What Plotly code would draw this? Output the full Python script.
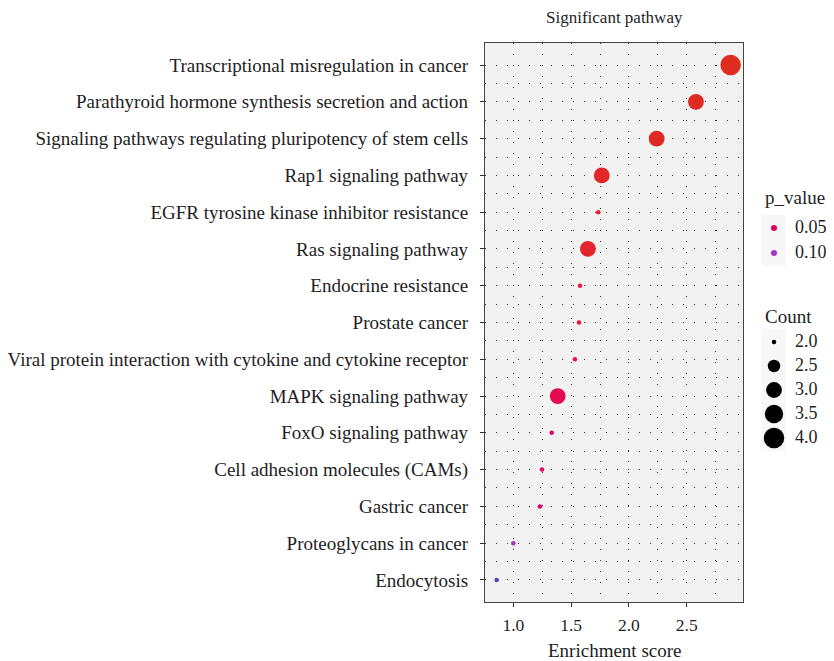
import numpy as np
import plotly.graph_objects as go

# the page has an 8px body margin; figure coordinates are page coords - 8
W, H = 826, 653
OFF = 8

pathways = [
    "Transcriptional misregulation in cancer",
    "Parathyroid hormone synthesis secretion and action",
    "Signaling pathways regulating pluripotency of stem cells",
    "Rap1 signaling pathway",
    "EGFR tyrosine kinase inhibitor resistance",
    "Ras signaling pathway",
    "Endocrine resistance",
    "Prostate cancer",
    "Viral protein interaction with cytokine and cytokine receptor",
    "MAPK signaling pathway",
    "FoxO signaling pathway",
    "Cell adhesion molecules (CAMs)",
    "Gastric cancer",
    "Proteoglycans in cancer",
    "Endocytosis",
]
enrichment = [2.88, 2.58, 2.24, 1.765, 1.735, 1.645, 1.577, 1.568, 1.533,
              1.384, 1.332, 1.248, 1.23, 1.0, 0.856]
counts = [4, 3, 3, 3, 2, 3, 2, 2, 2, 3, 2, 2, 2, 2, 2]
p_values = [0.005, 0.008, 0.010, 0.012, 0.015, 0.015, 0.03, 0.03, 0.032,
            0.042, 0.05, 0.055, 0.055, 0.10, 0.13]

legend_p = [0.05, 0.10]
legend_counts = [2.0, 2.5, 3.0, 3.5, 4.0]
x_ticks = [1.0, 1.5, 2.0, 2.5]

# style mappings
PMIN, PMAX = 0.005, 0.13
def frac(p):
    return (p - PMIN) / (PMAX - PMIN)
colorscale = [
    [0.0, "#DE2D1F"],
    [frac(0.03), "#E8173F"],
    [frac(0.05), "#E3005C"],
    [frac(0.10), "#A334C4"],
    [1.0, "#4B4BB8"],
]
def size_of(c):
    c = np.asarray(c, dtype=float)
    return 4.5 + 16 * np.sqrt((c - 2.0) / 2.0)

FONT = "Liberation Serif"
TXT = "#1E1E1E"
n = len(pathways)
ypos = list(range(n, 0, -1))

# panel in page pixels -> figure pixels
L, R, T, B = 485 - OFF, 743 - OFF, 43 - OFF, 602 - OFF

fig = go.Figure()
fig.add_trace(go.Scatter(
    x=enrichment, y=ypos, mode="markers",
    marker=dict(color=p_values, colorscale=colorscale, cmin=PMIN, cmax=PMAX,
                size=size_of(counts), line=dict(width=0), opacity=1),
    showlegend=False, hoverinfo="text", text=pathways,
))

# legend drawn on a pixel-coordinate overlay axis
LEG_SHIFT = 4
KX = 778 - OFF - LEG_SHIFT
LX = 799 - OFF - LEG_SHIFT
TX = 767 - OFF - LEG_SHIFT
p_y = [v - OFF for v in (228, 253)]
c_y = [v - OFF for v in (342, 366, 390, 414, 438)]
fig.add_trace(go.Scatter(
    x=[KX] * len(legend_p), y=p_y, mode="markers", xaxis="x2", yaxis="y2",
    marker=dict(color=legend_p, colorscale=colorscale, cmin=PMIN, cmax=PMAX,
                size=6, line=dict(width=0), opacity=1),
    showlegend=False, hoverinfo="skip"))
fig.add_trace(go.Scatter(
    x=[LX] * len(legend_p), y=p_y, mode="text", xaxis="x2", yaxis="y2",
    text=[f"{v:.2f}" for v in legend_p], textposition="middle right",
    textfont=dict(family=FONT, size=18, color=TXT),
    showlegend=False, hoverinfo="skip", cliponaxis=False))
fig.add_trace(go.Scatter(
    x=[KX] * len(legend_counts), y=c_y, mode="markers", xaxis="x2", yaxis="y2",
    marker=dict(color="#000000", size=size_of(legend_counts), line=dict(width=0),
                opacity=1),
    showlegend=False, hoverinfo="skip"))
fig.add_trace(go.Scatter(
    x=[LX] * len(legend_counts), y=c_y, mode="text", xaxis="x2", yaxis="y2",
    text=[f"{v:.1f}" for v in legend_counts], textposition="middle right",
    textfont=dict(family=FONT, size=18, color=TXT),
    showlegend=False, hoverinfo="skip", cliponaxis=False))

shapes = [
    dict(type="rect", xref="x domain", yref="y domain", x0=0, x1=1, y0=0, y1=1,
         fillcolor="#F2F2F2", line=dict(width=0), layer="below"),
    dict(type="rect", xref="x2", yref="y2", x0=KX - 12, x1=KX + 12,
         y0=215 - OFF, y1=266 - OFF,
         fillcolor="#F7F7F7", line=dict(width=0), layer="below"),
    dict(type="rect", xref="x2", yref="y2", x0=KX - 12, x1=KX + 12,
         y0=329 - OFF, y1=451 - OFF,
         fillcolor="#F7F7F7", line=dict(width=0), layer="below"),
]
annotations = [
    dict(text="p_value", xref="x2", yref="y2", x=TX, y=197 - OFF, showarrow=False,
         xanchor="left", yanchor="middle", font=dict(family=FONT, size=19, color=TXT)),
    dict(text="Count", xref="x2", yref="y2", x=TX, y=316 - OFF, showarrow=False,
         xanchor="left", yanchor="middle", font=dict(family=FONT, size=19, color=TXT)),
    dict(text="Significant pathway", xref="x2", yref="y2",
         x=(L + R) / 2, y=17 - OFF, showarrow=False,
         xanchor="center", yanchor="middle", font=dict(family=FONT, size=17, color=TXT)),
    dict(text="Enrichment score", xref="x2", yref="y2",
         x=(L + R) / 2, y=650 - OFF, showarrow=False,
         xanchor="center", yanchor="middle", font=dict(family=FONT, size=19, color=TXT)),
]

grid_dash = "1px,10px"
GRID = "#333333"
fig.update_layout(
    width=W, height=H,
    margin=dict(l=0, r=0, t=0, b=0, pad=0),
    paper_bgcolor="white",
    plot_bgcolor="rgba(0,0,0,0)",
    font=dict(family=FONT, size=15, color=TXT),
    shapes=shapes,
    annotations=annotations,
    xaxis=dict(
        domain=[L / W, R / W], range=[0.755, 2.987],
        tickvals=x_ticks, ticktext=[f"{v:.1f}" for v in x_ticks],
        ticks="outside", ticklen=4, tickcolor="#333", tickwidth=1.2,
        ticklabelstandoff=3,
        showline=True, linecolor="#444", linewidth=1.2, mirror=True,
        showgrid=True, gridcolor=GRID, gridwidth=1, griddash=grid_dash,
        minor=dict(tickvals=[1.25, 1.75, 2.25, 2.75], showgrid=True,
                   gridcolor=GRID, gridwidth=1, griddash=grid_dash, ticks=""),
        zeroline=False,
        tickfont=dict(family=FONT, size=17.5, color=TXT),
        automargin=False,
    ),
    yaxis=dict(
        domain=[1 - B / H, 1 - T / H], range=[0.4, n + 0.6],
        tickvals=ypos, ticktext=pathways,
        ticks="outside", ticklen=4, tickcolor="#333", tickwidth=1.2,
        ticklabelstandoff=8,
        showline=True, linecolor="#444", linewidth=1.2, mirror=True,
        showgrid=True, gridcolor=GRID, gridwidth=1, griddash=grid_dash,
        minor=dict(tickvals=[i + 0.5 for i in range(1, n)], showgrid=True,
                   gridcolor=GRID, gridwidth=1, griddash=grid_dash, ticks=""),
        zeroline=False,
        tickfont=dict(family=FONT, size=19, color=TXT),
        automargin=False,
    ),
    xaxis2=dict(domain=[0, 1], range=[0, W], visible=False, fixedrange=True,
                anchor="y2"),
    yaxis2=dict(domain=[0, 1], range=[H, 0], visible=False, fixedrange=True,
                anchor="x2"),
)

fig.write_html("out.html")
